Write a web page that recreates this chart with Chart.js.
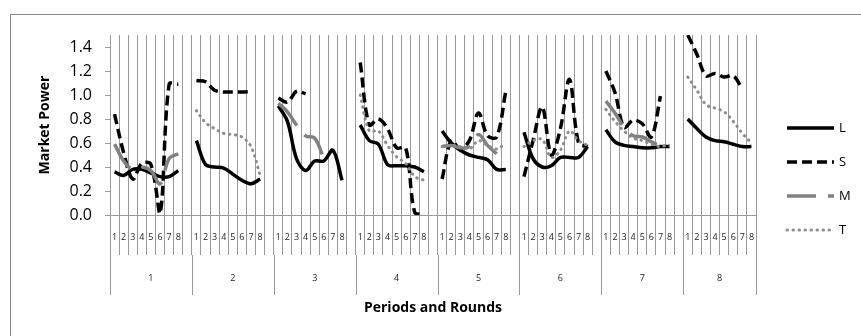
<!DOCTYPE html>
<html>
<head>
<meta charset="utf-8">
<script src="https://cdn.jsdelivr.net/npm/chart.js@4.4.1/dist/chart.umd.min.js"></script>
<style>
  html, body { margin: 0; padding: 0; background: #fff; }
</style>
</head>
<body>
<canvas id="grafico" width="861" height="336"></canvas>
<script>
const PERIODS = ['1', '2', '3', '4', '5', '6', '7', '8'];
const ROUNDS = ['1', '2', '3', '4', '5', '6', '7', '8'];
const Y_TICKS = [0, 0.2, 0.4, 0.6, 0.8, 1.0, 1.2, 1.4];

// one row per period, 8 rounds each (null = no line there)
const VALUES_L = [
    [0.36, 0.33, 0.38, 0.38, 0.35, 0.32, 0.32, 0.37],
    [0.62, 0.42, 0.40, 0.39, 0.34, 0.29, 0.26, 0.30],
    [0.91, 0.78, 0.47, 0.37, 0.45, 0.45, 0.54, 0.29],
    [0.75, 0.62, 0.59, 0.42, 0.41, 0.41, 0.40, 0.36],
    [0.70, 0.60, 0.54, 0.50, 0.48, 0.46, 0.38, 0.38],
    [0.69, 0.47, 0.40, 0.41, 0.48, 0.48, 0.48, 0.57],
    [0.71, 0.61, 0.58, 0.57, 0.56, 0.56, 0.57, 0.57],
    [0.80, 0.72, 0.65, 0.62, 0.61, 0.59, 0.57, 0.57]
];
const VALUES_S = [
    [0.84, 0.52, 0.30, 0.43, 0.42, 0.01, 1.09, 1.09],
    [1.12, 1.11, 1.04, 1.025, 1.025, 1.025, 1.03, null],
    [0.975, 0.94, 1.03, 1.01, null, null, null, null],
    [1.27, 0.75, 0.80, 0.72, 0.56, 0.56, 0.02, 0.01],
    [0.30, 0.62, 0.55, 0.62, 0.85, 0.66, 0.65, 1.03],
    [0.32, 0.62, 0.90, 0.50, 0.72, 1.13, 0.60, 0.57],
    [1.20, 1.02, 0.73, 0.79, 0.76, 0.65, 0.99, null],
    [1.50, 1.34, 1.16, 1.18, 1.15, 1.16, 1.05, null]
];
const VALUES_M = [
    [0.59, 0.45, 0.38, 0.40, 0.37, 0.26, 0.47, 0.51],
    null,
    [0.93, 0.86, 0.75, 0.66, 0.64, 0.47, null, null],
    null,
    [0.57, 0.58, 0.56, 0.57, 0.67, 0.58, 0.51, null],
    null,
    [0.95, 0.85, 0.73, 0.66, 0.65, 0.61, 0.58, 0.58],
    null
];
const VALUES_T = [
    null,
    [0.87, 0.77, 0.72, 0.68, 0.67, 0.65, 0.57, 0.33],
    null,
    [1.00, 0.70, 0.70, 0.58, 0.485, 0.43, 0.32, 0.29],
    [0.57, 0.58, 0.57, 0.55, 0.62, 0.58, 0.55, 0.60],
    [0.57, 0.62, 0.63, 0.48, 0.54, 0.70, 0.62, 0.58],
    [0.88, 0.78, 0.70, 0.64, 0.62, 0.59, 0.57, 0.59],
    [1.15, 1.04, 0.92, 0.89, 0.86, 0.78, 0.68, 0.60]
];

const FONT = '"Open Sans", "DejaVu Sans", sans-serif';
const GRID = '#9a9a9a';

// rounds of every period, with one empty slot between periods
const labels = [];
PERIODS.forEach((p, i) => {
    ROUNDS.forEach(r => labels.push(r));
    if (i < PERIODS.length - 1) labels.push('');
});

function flatten(rows) {
    const out = [];
    rows.forEach((row, i) => {
        (row || ROUNDS.map(() => null)).forEach(v => out.push(v));
        if (i < rows.length - 1) out.push(null);
    });
    return out;
}

// period separators, period numbers, legend and frame
const extras = {
    id: 'extras',
    afterDraw(chart) {
        const ctx = chart.ctx;
        const x = chart.scales.x;
        const half = (x.getPixelForValue(1) - x.getPixelForValue(0)) / 2;
        const axisY = chart.chartArea.bottom;
        const step = ROUNDS.length + 1;
        ctx.save();
        ctx.strokeStyle = GRID;
        ctx.lineWidth = 1;
        ctx.fillStyle = '#222';
        ctx.font = '9px ' + FONT;
        ctx.textAlign = 'center';
        ctx.textBaseline = 'middle';
        PERIODS.forEach((p, i) => {
            const start = x.getPixelForValue(i * step) - half;
            const end = i < PERIODS.length - 1
                ? x.getPixelForValue((i + 1) * step) - half
                : x.getPixelForValue(labels.length - 1) + half;
            [start, end].forEach(px => {
                const lx = Math.round(px) + 0.5;
                ctx.beginPath();
                ctx.moveTo(lx, axisY + 40);
                ctx.lineTo(lx, axisY + 80);
                ctx.stroke();
            });
            ctx.fillText(p, (start + end) / 2, axisY + 63);
        });

        // legend
        ctx.font = '13px ' + FONT;
        ctx.textAlign = 'left';
        ctx.fillStyle = '#000';
        chart.data.datasets.forEach((ds, i) => {
            const ly = 128 + i * 34;
            ctx.save();
            ctx.strokeStyle = ds.borderColor;
            ctx.lineWidth = ds.borderWidth;
            ctx.lineCap = ds.borderCapStyle || 'butt';
            ctx.setLineDash(ds.borderDash || []);
            ctx.beginPath();
            ctx.moveTo(787, ly);
            ctx.lineTo(834, ly);
            ctx.stroke();
            ctx.restore();
            ctx.fillText(ds.label, 839, ly);
        });

        ctx.strokeStyle = '#8a8a8a';
        ctx.strokeRect(10.5, 14.5, 860, 340);
        ctx.restore();
    }
};

new Chart(document.getElementById('grafico'), {
    type: 'line',
    data: {
        labels: labels,
        datasets: [
            { label: 'L', data: flatten(VALUES_L), borderColor: '#000000', borderWidth: 3.5, order: 4 },
            { label: 'S', data: flatten(VALUES_S), borderColor: '#000000', borderWidth: 3.5, borderDash: [10, 5], order: 3 },
            { label: 'M', data: flatten(VALUES_M), borderColor: '#808080', borderWidth: 3.5, borderDash: [29, 12], order: 2 },
            { label: 'T', data: flatten(VALUES_T), borderColor: '#8c8c8c', borderWidth: 3, borderDash: [0.5, 5.5], borderCapStyle: 'round', order: 1 }
        ]
    },
    options: {
        responsive: false,
        animation: false,
        devicePixelRatio: 1,
        spanGaps: false,
        layout: { padding: { left: 10, right: 105, top: 35, bottom: 5 } },
        elements: {
            point: { radius: 0 },
            line: { tension: 0.35, fill: false }
        },
        plugins: {
            legend: { display: false },
            tooltip: { enabled: false }
        },
        scales: {
            x: {
                offset: true,
                grid: { offset: true, color: GRID, lineWidth: 1, tickLength: 40 },
                border: { display: true, color: GRID },
                ticks: {
                    autoSkip: false, maxRotation: 0, minRotation: 0, padding: -23,
                    color: '#222', font: { size: 9, family: FONT }
                },
                title: {
                    display: true, text: 'Periods and Rounds', color: '#000',
                    font: { size: 14, weight: 'bold', family: FONT },
                    padding: { top: 0, bottom: 14.6 }
                },
                afterFit(scale) { scale.height = 116; }
            },
            y: {
                min: 0,
                max: 1.5,
                afterBuildTicks(scale) { scale.ticks = Y_TICKS.map(v => ({ value: v })); },
                ticks: {
                    callback: v => Number(v).toFixed(1), padding: 13,
                    color: '#000', font: { size: 16, family: FONT }
                },
                grid: { drawOnChartArea: false, tickLength: 5, color: GRID },
                border: { display: true, color: GRID },
                title: {
                    display: true, text: 'Market Power', color: '#000',
                    font: { size: 14, weight: 'bold', family: FONT },
                    padding: { top: 27, bottom: 0 }
                },
                afterFit(scale) { scale.width = 100; }
            }
        }
    },
    plugins: [extras]
});
</script>
</body>
</html>
